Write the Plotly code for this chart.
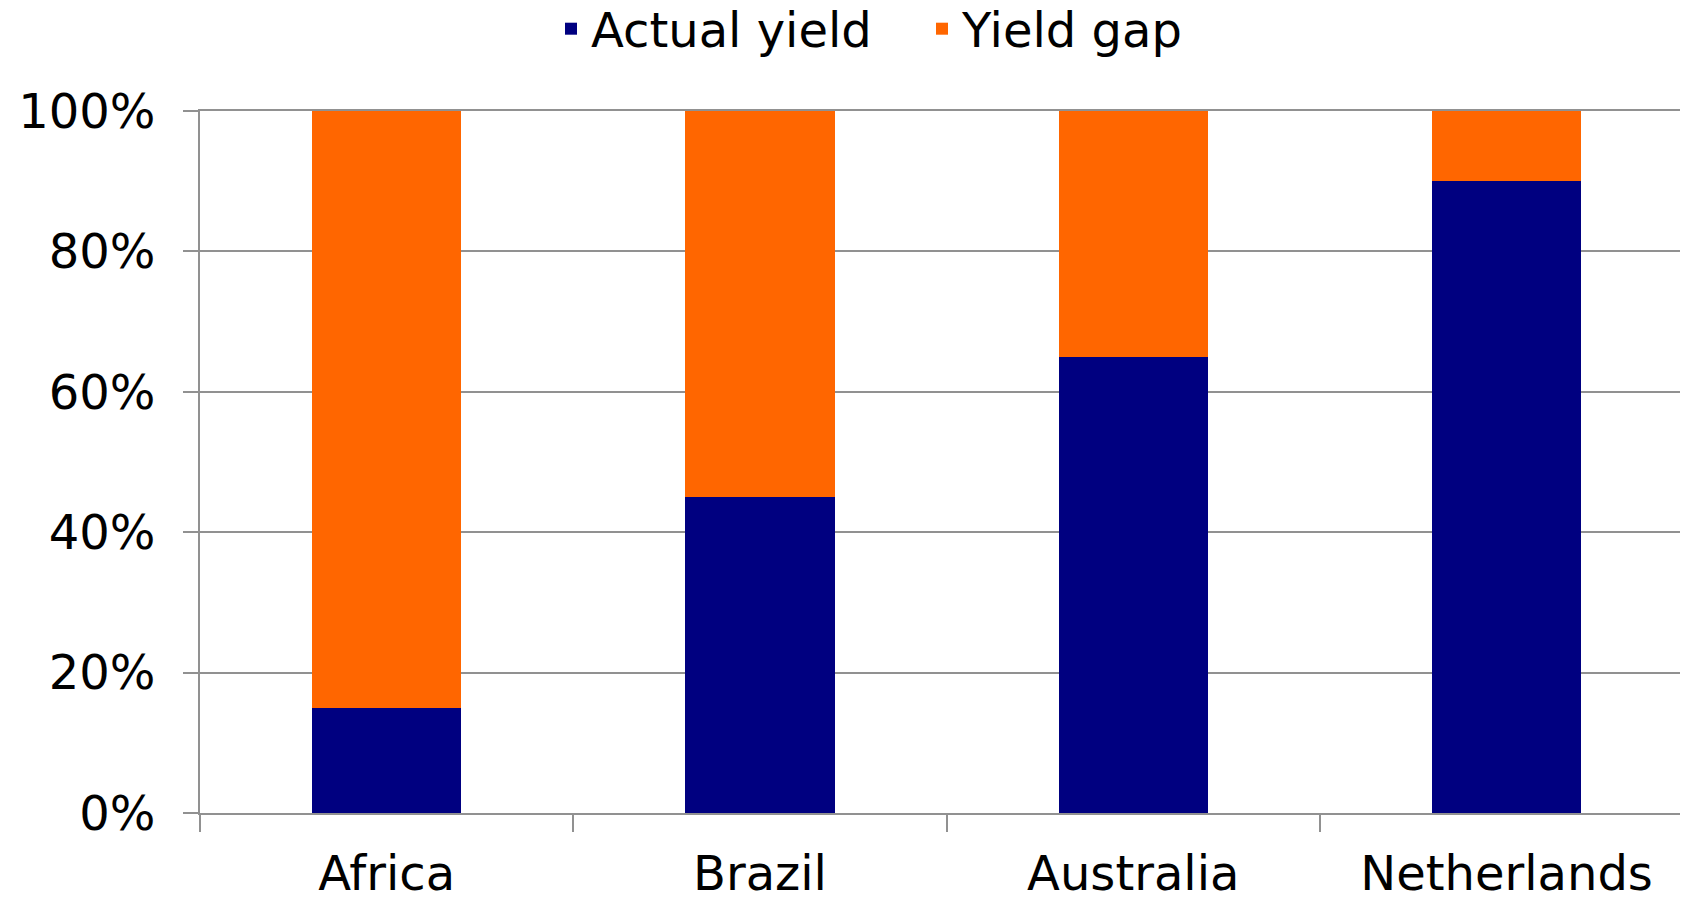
import plotly.graph_objects as go

categories = ["Africa", "Brazil", "Australia", "Netherlands"]
actual_yield = [0.15, 0.45, 0.65, 0.90]
yield_gap = [0.85, 0.55, 0.35, 0.10]
series_names = ["Actual yield", "Yield gap"]
y_ticks = [0, 0.2, 0.4, 0.6, 0.8, 1.0]
y_tick_labels = ["0%", "20%", "40%", "60%", "80%", "100%"]

FONT = "DejaVu Sans"
GRID = "#919191"
W, H = 1680, 890

fig = go.Figure()
fig.add_trace(go.Bar(x=categories, y=actual_yield, name=series_names[0],
                     marker=dict(color="#000080", line=dict(width=0))))
fig.add_trace(go.Bar(x=categories, y=yield_gap, name=series_names[1],
                     marker=dict(color="#FF6600", line=dict(width=0))))

fig.update_layout(
    barmode="stack",
    bargap=0.6,
    width=W, height=H,
    margin=dict(l=192, r=0, t=103, b=85, pad=0, autoexpand=False),
    paper_bgcolor="white", plot_bgcolor="white",
    font=dict(family=FONT, size=48, color="black"),
    legend=dict(orientation="h", x=543 / W, xref="container", xanchor="left",
                y=1 - 21 / H, yref="container", yanchor="middle",
                font=dict(size=48), traceorder="normal", entrywidth=326,
                itemsizing="constant", bgcolor="rgba(0,0,0,0)"),
    xaxis=dict(range=[-0.5, 3.486], tickson="boundaries", ticks="outside",
               ticklen=17, tickwidth=2, tickcolor=GRID, showgrid=False,
               showline=True, linecolor=GRID, linewidth=2, mirror=True,
               zeroline=False, ticklabelstandoff=17,
               tickfont=dict(size=48)),
    yaxis=dict(range=[0, 1], tickvals=y_ticks, ticktext=y_tick_labels,
               ticks="outside", ticklen=15, tickwidth=2, tickcolor=GRID,
               showgrid=True, gridcolor=GRID, gridwidth=2,
               showline=True, linecolor=GRID, linewidth=2,
               zeroline=False, ticklabelstandoff=18,
               tickfont=dict(size=48)),
)

fig.write_html("out.html")
